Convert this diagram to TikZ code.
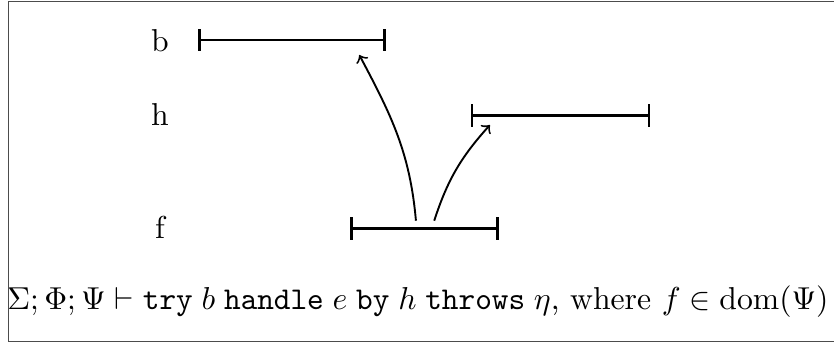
\documentclass[tikz,border=0pt]{standalone}
\usepackage{amsmath,amssymb}
\usetikzlibrary{calc,positioning}
\tikzset{
 trace/.style={font=\normalsize,line cap=butt},
 frame/.style={draw=black!70,line width=.5pt},
 span/.style={draw=black,thick,|-|},
 jump/.style={draw=black,semithick,->},
 fname/.style={anchor=base},
 judgement/.style={anchor=base}
}
\newcommand{\kw}[1]{\mathtt{#1}}

\begin{document}
\begin{tikzpicture}[trace,x=1cm,y=1cm]
 \useasboundingbox (0,0) rectangle (9.25,3.826);
 \draw[frame] (0.092,0.037) rectangle (9.6,3.807);
 % intervals
 \coordinate (bS) at (2.196,3.382); \coordinate (bE) at (4.277,3.382);
 \coordinate (hS) at (5.223,2.543); \coordinate (hE) at (7.212,2.543);
 \coordinate (fS) at (3.882,1.290); \coordinate (fE) at (5.534,1.290);
 \draw[span] (bS)--(bE); \draw[span] (hS)--(hE); \draw[span] (fS)--(fE);
 \node[fname] (lb) at (1.774,3.260) {b};
 \node[fname] (lh) at (1.774,2.429) {h};
 \node[fname] (lf) at (1.774,1.176) {f};
 % control transfers
 \coordinate (toB) at (4.613,1.378); \coordinate (inB) at (3.985,3.216);
 \coordinate (toH) at (4.816,1.378); \coordinate (inH) at (5.434,2.440);
 \draw[jump] (toB) to[out=95,in=-62] (inB);
 \draw[jump] (toH) to[out=72,in=-132] (inH);
 \node[judgement] (rule) at (4.636,0.388)
  {$\Sigma;\Phi;\Psi\vdash\kw{try}\;b\;\kw{handle}\;e\;\kw{by}\;h\;\kw{throws}\;\eta$, where $f\in\operatorname{dom}(\Psi)$};
\end{tikzpicture}
\end{document}
